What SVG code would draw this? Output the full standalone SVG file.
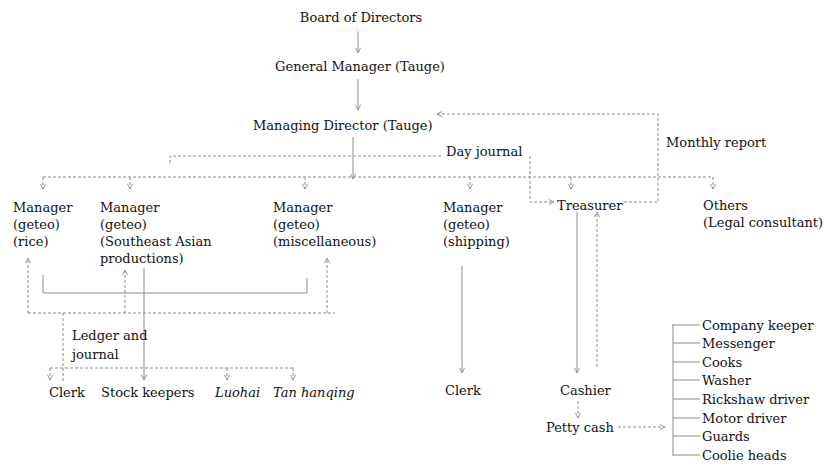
<svg xmlns="http://www.w3.org/2000/svg" width="824" height="475" viewBox="0 0 824 475">
<defs>
<marker id="ah" viewBox="0 0 8 8" refX="7" refY="4" markerWidth="7" markerHeight="7" markerUnits="userSpaceOnUse" orient="auto">
<path d="M1,1 L7,4 L1,7" fill="none" stroke="#8c8c8c" stroke-width="1"/>
</marker>
</defs>
<style>
text{font-family:"DejaVu Serif","Liberation Serif",serif;font-size:13px;fill:#111111}
.it{font-style:italic}
.s{fill:none;stroke:#8c8c8c;stroke-width:1}
.d{fill:none;stroke:#8c8c8c;stroke-width:1;stroke-dasharray:3,2}
.a{marker-end:url(#ah)}
</style>
<rect width="824" height="475" fill="#ffffff"/>
<g id="connectors">
<path class="s a" d="M358,31 V53"/>
<path class="s a" d="M358,79 V110"/>
<path class="s a" d="M353,137 V179"/>
<path class="d" d="M170,163 V156 H442"/>
<path class="d a" d="M530,156 V202 H554"/>
<path class="d a" d="M624,202 H658 V114 H437"/>
<path class="d" d="M43,177 H713"/>
<path class="d a" d="M43,177 V189"/>
<path class="d a" d="M130,177 V189"/>
<path class="d a" d="M305,177 V189"/>
<path class="d a" d="M470,177 V189"/>
<path class="d a" d="M571,177 V189"/>
<path class="d a" d="M713,177 V189"/>
<path class="s" d="M43,275 V293 H307 V278"/>
<path class="d a" d="M28,313 V258"/>
<path class="d a" d="M125,313 V270"/>
<path class="d a" d="M327,313 V258"/>
<path class="d" d="M28,313 H335"/>
<path class="d" d="M63,313 V382"/>
<path class="s a" d="M144,268 V380"/>
<path class="d" d="M50,368 H293"/>
<path class="d a" d="M50,368 V380"/>
<path class="d a" d="M227,368 V380"/>
<path class="d a" d="M293,368 V380"/>
<path class="s a" d="M462,266 V373"/>
<path class="s a" d="M577,212 V373"/>
<path class="d a" d="M597,367 V212"/>
<path class="d a" d="M578,401 V418"/>
<path class="d a" d="M618,427 H665"/>
<path class="s" d="M673,324 V456"/>
<path class="s" d="M673,325 H700 M673,343 H700 M673,362 H700 M673,380 H700 M673,399 H700 M673,418 H700 M673,436 H700 M673,455 H700"/>
</g>
<g id="board"><text x="361" y="22" text-anchor="middle">Board of Directors</text></g>
<g id="gm"><text x="360" y="71" text-anchor="middle">General Manager (Tauge)</text></g>
<g id="md"><text x="253" y="130">Managing Director (Tauge)</text></g>
<g id="monthly"><text x="666" y="147">Monthly report</text></g>
<g id="dayjournal"><text x="446" y="156">Day journal</text></g>
<g id="mgr-rice"><text x="13" y="212">Manager</text><text x="13" y="229">(geteo)</text><text x="13" y="246">(rice)</text></g>
<g id="mgr-sea"><text x="100" y="212">Manager</text><text x="100" y="229">(geteo)</text><text x="100" y="246">(Southeast Asian</text><text x="100" y="263">productions)</text></g>
<g id="mgr-misc"><text x="273" y="212">Manager</text><text x="273" y="229">(geteo)</text><text x="273" y="246">(miscellaneous)</text></g>
<g id="mgr-ship"><text x="443" y="212">Manager</text><text x="443" y="229">(geteo)</text><text x="443" y="246">(shipping)</text></g>
<g id="treasurer"><text x="557" y="210">Treasurer</text></g>
<g id="others"><text x="703" y="210">Others</text><text x="703" y="227">(Legal consultant)</text></g>
<g id="ledger"><text x="72" y="340">Ledger and</text><text x="72" y="359">journal</text></g>
<g id="clerk1"><text x="49" y="397">Clerk</text></g>
<g id="stock"><text x="101" y="397">Stock keepers</text></g>
<g id="luohai"><text x="215" y="397" class="it">Luohai</text></g>
<g id="tan"><text x="273" y="397" class="it">Tan hanqing</text></g>
<g id="clerk2"><text x="445" y="395">Clerk</text></g>
<g id="cashier"><text x="560" y="395">Cashier</text></g>
<g id="petty"><text x="546" y="432">Petty cash</text></g>
<g id="staff">
<text x="702" y="330">Company keeper</text>
<text x="702" y="348">Messenger</text>
<text x="702" y="367">Cooks</text>
<text x="702" y="385">Washer</text>
<text x="702" y="404">Rickshaw driver</text>
<text x="702" y="423">Motor driver</text>
<text x="702" y="441">Guards</text>
<text x="702" y="460">Coolie heads</text>
</g>
</svg>
